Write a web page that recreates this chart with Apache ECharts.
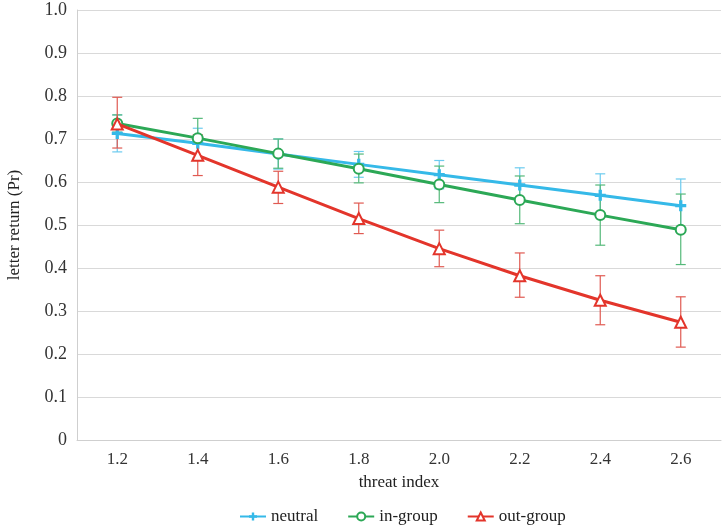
<!DOCTYPE html>
<html><head><meta charset="utf-8">
<script src="https://cdn.jsdelivr.net/npm/echarts@6/dist/echarts.min.js"></script>
<style>html,body{margin:0;padding:0;background:#fff}#c{width:722px;height:525px}</style>
</head><body><div id="c"></div>
<script>
var categories = ['1.2','1.4','1.6','1.8','2.0','2.2','2.4','2.6'];
var neutral      = [0.713,0.690,0.665,0.641,0.617,0.593,0.569,0.545];
var neutralLow   = [0.670,0.655,0.630,0.611,0.584,0.553,0.519,0.483];
var neutralHigh  = [0.756,0.725,0.700,0.671,0.650,0.633,0.619,0.607];
var ingroup      = [0.736,0.702,0.666,0.631,0.594,0.558,0.523,0.489];
var ingroupLow   = [0.716,0.656,0.632,0.598,0.552,0.503,0.453,0.408];
var ingroupHigh  = [0.756,0.748,0.700,0.665,0.637,0.614,0.593,0.572];
var outgroup     = [0.735,0.662,0.588,0.515,0.445,0.382,0.325,0.274];
var outgroupLow  = [0.679,0.615,0.550,0.480,0.403,0.332,0.268,0.216];
var outgroupHigh = [0.797,0.710,0.625,0.551,0.488,0.435,0.382,0.333];

var FONT = 'Liberation Serif';
function errSeries(name, low, high, color){
  return {
    type:'custom', name:name, z:1, silent:true,
    data: categories.map(function(c,i){return [i, low[i], high[i]];}),
    renderItem:function(params, api){
      var lo = api.coord([api.value(0), api.value(1)]);
      var hi = api.coord([api.value(0), api.value(2)]);
      var w = 5;
      var st = {stroke:color, lineWidth:1.2};
      return {type:'group', children:[
        {type:'line', shape:{x1:lo[0],y1:lo[1],x2:hi[0],y2:hi[1]}, style:st},
        {type:'line', shape:{x1:lo[0]-w,y1:lo[1],x2:lo[0]+w,y2:lo[1]}, style:st},
        {type:'line', shape:{x1:hi[0]-w,y1:hi[1],x2:hi[0]+w,y2:hi[1]}, style:st}
      ]};
    }
  };
}
var plus = 'path://M3.5,0L6.5,0L6.5,3.5L10,3.5L10,6.5L6.5,6.5L6.5,10L3.5,10L3.5,6.5L0,6.5L0,3.5L3.5,3.5Z';
var cBlue='#35b9e8', cGreen='#2ca856', cRed='#e3352b';
var chart = echarts.init(document.getElementById('c'));
chart.setOption({
  animation:false,
  grid:{left:77,right:1,top:10,bottom:85, outerBoundsMode:'none', containLabel:false},
  legend:{
    top:503, left:234, itemWidth:26, itemHeight:10, itemGap:29,
    textStyle:{fontFamily:FONT, fontSize:17, color:'#222'},
    data:[{name:'neutral'},{name:'in-group'},{name:'out-group'}]
  },
  xAxis:{
    type:'category', data:categories, boundaryGap:true,
    name:'threat index', nameLocation:'middle', nameGap:34,
    nameTextStyle:{fontFamily:FONT, fontSize:17, color:'#222'},
    axisLine:{lineStyle:{color:'#cfcfcf'}},
    axisTick:{alignWithLabel:true, length:4, lineStyle:{color:'#cfcfcf'}},
    axisLabel:{fontFamily:FONT, fontSize:17, color:'#333', margin:11}
  },
  yAxis:{
    type:'value', min:0, max:1, interval:0.1,
    name:'letter return (Pr)', nameLocation:'middle', nameGap:54, nameRotate:90,
    nameTextStyle:{fontFamily:FONT, fontSize:17, color:'#222'},
    axisLine:{show:true, lineStyle:{color:'#cfcfcf'}},
    axisTick:{show:false},
    axisLabel:{fontFamily:FONT, fontSize:18, color:'#333', margin:10,
      formatter:function(v){return v===0?'0':v.toFixed(1);}},
    splitLine:{lineStyle:{color:'#d9d9d9'}}
  },
  series:[
    errSeries('neutral-err', neutralLow, neutralHigh, '#6ccbef'),
    errSeries('in-group-err', ingroupLow, ingroupHigh, '#55b97a'),
    errSeries('out-group-err', outgroupLow, outgroupHigh, '#e05a52'),
    {type:'line', name:'neutral', data:neutral, z:3, color:cBlue, showSymbol:true,
      symbol:plus, symbolSize:11, lineStyle:{width:3, color:cBlue}, itemStyle:{color:cBlue, opacity:1}},
    {type:'line', name:'in-group', data:ingroup, z:4, color:cGreen,
      symbol:'emptyCircle', symbolSize:10, lineStyle:{width:3, color:cGreen},
      itemStyle:{color:cGreen, borderWidth:2.5}},
    {type:'line', name:'out-group', data:outgroup, z:5, color:cRed,
      symbol:'emptyTriangle', symbolSize:11, lineStyle:{width:3, color:cRed},
      itemStyle:{color:cRed, borderWidth:2.5}}
  ]
});
</script></body></html>
